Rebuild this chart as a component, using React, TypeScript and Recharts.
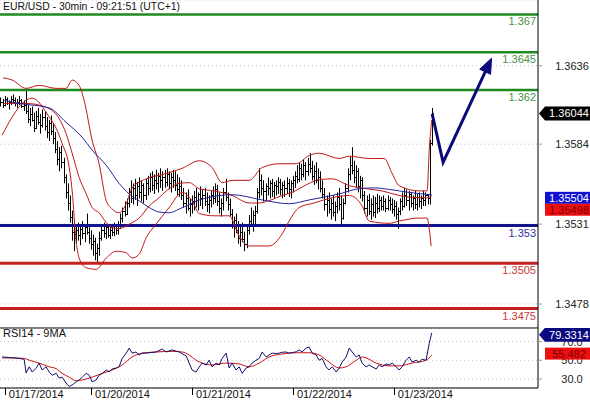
import React from "react";
import { ComposedChart, Bar, Line, XAxis, YAxis, CartesianGrid, ReferenceLine } from "recharts";

const FONT = '"Liberation Sans", Arial, Helvetica, sans-serif';

const titleText = "EUR/USD - 30min - 09:21:51 (UTC+1)";
const rsiTitle = "RSI14 - 9MA";

const highs = [1.3615,1.3614,1.3616,1.3615,1.3613,1.3616,1.3617,1.3615,1.3614,1.3616,
1.3614,1.3613,1.3621,1.3610,1.3608,1.3609,1.3605,1.3606,1.3608,1.3604,
1.3607,1.3606,1.3602,1.3600,1.3603,1.3598,1.3592,1.3586,1.3582,1.3583,
1.3575,1.3564,1.3558,1.3550,1.3540,1.3532,1.3530,1.3532,1.3530,1.3533,
1.3531,1.3538,1.3530,1.3527,1.3524,1.3522,1.3518,1.3526,1.3530,1.3532,
1.3531,1.3530,1.3529,1.3531,1.3532,1.3531,1.3533,1.3538,1.3542,1.3546,
1.3548,1.3555,1.3560,1.3558,1.3561,1.3559,1.3562,1.3560,1.3558,1.3561,
1.3563,1.3565,1.3566,1.3564,1.3567,1.3565,1.3568,1.3566,1.3567,1.3568,
1.3566,1.3565,1.3567,1.3566,1.3564,1.3562,1.3560,1.3555,1.3552,1.3554,
1.3548,1.3550,1.3553,1.3555,1.3552,1.3556,1.3554,1.3555,1.3552,1.3550,
1.3553,1.3556,1.3558,1.3557,1.3552,1.3548,1.3555,1.3561,1.3552,1.3548,
1.3541,1.3536,1.3538,1.3533,1.3530,1.3532,1.3526,1.3530,1.3537,1.3542,
1.3540,1.3543,1.3555,1.3568,1.3564,1.3560,1.3558,1.3562,1.3560,1.3561,
1.3559,1.3560,1.3562,1.3561,1.3559,1.3560,1.3562,1.3561,1.3560,1.3563,
1.3566,1.3570,1.3572,1.3571,1.3574,1.3572,1.3575,1.3578,1.3573,1.3570,
1.3572,1.3568,1.3566,1.3560,1.3555,1.3550,1.3552,1.3548,1.3550,1.3546,
1.3552,1.3555,1.3550,1.3548,1.3558,1.3568,1.3576,1.3582,1.3573,1.3570,
1.3568,1.3563,1.3562,1.3553,1.3550,1.3551,1.3548,1.3550,1.3549,1.3551,
1.3550,1.3549,1.3550,1.3548,1.3550,1.3549,1.3548,1.3547,1.3546,1.3542,
1.3548,1.3552,1.3555,1.3554,1.3553,1.3552,1.3550,1.3553,1.3551,1.3552,
1.3550,1.3553,1.3552,1.3551,1.3587,1.3608];

const lows = [1.3609,1.3608,1.3609,1.3610,1.3607,1.3610,1.3611,1.3609,1.3608,1.3610,
1.3608,1.3606,1.3604,1.3598,1.3596,1.3599,1.3592,1.3594,1.3597,1.3591,
1.3595,1.3593,1.3588,1.3586,1.3590,1.3584,1.3578,1.3570,1.3566,1.3568,
1.3558,1.3548,1.3540,1.3532,1.3520,1.3513,1.3518,1.3520,1.3517,1.3521,
1.3519,1.3524,1.3518,1.3514,1.3510,1.3507,1.3505,1.3510,1.3520,1.3522,
1.3521,1.3522,1.3521,1.3523,1.3523,1.3524,1.3524,1.3528,1.3532,1.3536,
1.3537,1.3542,1.3545,1.3544,1.3547,1.3543,1.3548,1.3546,1.3545,1.3547,
1.3550,1.3552,1.3553,1.3551,1.3554,1.3552,1.3555,1.3553,1.3555,1.3556,
1.3554,1.3552,1.3555,1.3553,1.3550,1.3549,1.3547,1.3542,1.3538,1.3540,
1.3536,1.3538,1.3540,1.3542,1.3540,1.3543,1.3541,1.3543,1.3539,1.3538,
1.3542,1.3544,1.3545,1.3543,1.3538,1.3536,1.3540,1.3546,1.3540,1.3536,
1.3528,1.3522,1.3525,1.3518,1.3516,1.3519,1.3513,1.3515,1.3524,1.3529,
1.3526,1.3531,1.3538,1.3548,1.3550,1.3546,1.3547,1.3550,1.3548,1.3549,
1.3548,1.3550,1.3551,1.3550,1.3548,1.3549,1.3551,1.3549,1.3548,1.3552,
1.3555,1.3558,1.3559,1.3560,1.3562,1.3560,1.3563,1.3565,1.3560,1.3557,
1.3558,1.3554,1.3552,1.3548,1.3540,1.3536,1.3538,1.3534,1.3536,1.3533,
1.3538,1.3540,1.3531,1.3534,1.3544,1.3552,1.3560,1.3564,1.3558,1.3555,
1.3552,1.3548,1.3546,1.3538,1.3536,1.3537,1.3534,1.3536,1.3535,1.3538,
1.3539,1.3540,1.3540,1.3539,1.3540,1.3540,1.3538,1.3536,1.3534,1.3528,
1.3537,1.3540,1.3542,1.3543,1.3540,1.3542,1.3540,1.3541,1.3540,1.3542,
1.3541,1.3543,1.3543,1.3544,1.3544,1.3583];

const closes = [1.3612,1.3610,1.3614,1.3611,1.3612,1.3614,1.3613,1.3611,1.3612,1.3613,
1.3609,1.3610,1.3606,1.3601,1.3604,1.3600,1.3595,1.3603,1.3599,1.3597,
1.3602,1.3596,1.3592,1.3598,1.3593,1.3588,1.3581,1.3574,1.3579,1.3572,
1.3562,1.3552,1.3545,1.3536,1.3526,1.3522,1.3527,1.3524,1.3528,1.3525,
1.3529,1.3526,1.3522,1.3518,1.3520,1.3512,1.3515,1.3522,1.3527,1.3525,
1.3529,1.3524,1.3527,1.3526,1.3530,1.3527,1.3531,1.3535,1.3540,1.3538,
1.3545,1.3552,1.3548,1.3555,1.3550,1.3556,1.3552,1.3557,1.3550,1.3558,
1.3555,1.3562,1.3557,1.3560,1.3558,1.3563,1.3560,1.3562,1.3559,1.3564,
1.3558,1.3562,1.3560,1.3557,1.3554,1.3556,1.3550,1.3545,1.3548,1.3542,
1.3544,1.3546,1.3549,1.3547,1.3551,1.3548,1.3550,1.3546,1.3544,1.3547,
1.3550,1.3548,1.3554,1.3546,1.3542,1.3545,1.3552,1.3549,1.3544,1.3538,
1.3531,1.3534,1.3527,1.3522,1.3526,1.3521,1.3518,1.3527,1.3533,1.3531,
1.3537,1.3540,1.3552,1.3560,1.3555,1.3553,1.3556,1.3555,1.3558,1.3553,
1.3557,1.3556,1.3559,1.3554,1.3557,1.3555,1.3558,1.3554,1.3558,1.3560,
1.3563,1.3561,1.3568,1.3564,1.3570,1.3566,1.3571,1.3568,1.3563,1.3566,
1.3560,1.3562,1.3555,1.3551,1.3544,1.3547,1.3541,1.3545,1.3539,1.3543,
1.3549,1.3544,1.3535,1.3545,1.3555,1.3564,1.3570,1.3567,1.3562,1.3566,
1.3556,1.3560,1.3550,1.3542,1.3547,1.3540,1.3544,1.3539,1.3545,1.3542,
1.3547,1.3543,1.3546,1.3542,1.3547,1.3544,1.3541,1.3543,1.3538,1.3540,
1.3546,1.3543,1.3550,1.3547,1.3551,1.3545,1.3548,1.3544,1.3549,1.3546,
1.3548,1.3547,1.3550,1.3548,1.3585,1.36044];

const priceTicks = [1.3478, 1.3531, 1.3584, 1.3636];
const priceDomain = [1.34621, 1.36796];
const xDomain = [-0.2, 255.5];

const dateTickIdx = [2, 43, 91, 139, 187];
const dateLabels = ["01/17/2014", "01/20/2014", "01/21/2014", "01/22/2014", "01/23/2014"];

const greenLevels = [1.367, 1.3645, 1.362];
const greenLabels = ["1.367", "1.3645", "1.362"];
const blueLevels = [1.353];
const blueLabels = ["1.353"];
const redLevels = [1.3505, 1.3475];
const redLabels = ["1.3505", "1.3475"];

const maIdx = [1.8, 8.9, 23.2, 31.2, 38.9, 43.6, 50.3, 56.4, 61.2, 65.9, 70.7, 75.4, 80.2, 85, 89.7, 94.5, 110.1, 124.4, 137.2, 146.7, 161, 170.5, 177.6, 184.8, 194.3, 205];
const maVals = [1.3613, 1.3611, 1.3608, 1.35985, 1.35885, 1.358, 1.357, 1.3558, 1.3551, 1.35465, 1.3542, 1.3539, 1.35385, 1.3541, 1.3544, 1.3547, 1.35505, 1.3547, 1.35445, 1.3547, 1.3551, 1.35545, 1.3555, 1.3554, 1.3552, 1.35504];

const bbUpIdx = [1.3, 5.6, 12.2, 18.4, 26.5, 31.2, 34.1, 37.4, 39.8, 43.6, 46.9, 50.3, 53.1, 56.4, 59.8, 62.6, 69.3, 78.8, 86.4, 94.5, 100.6, 105.4, 110.1, 118.2, 124.4, 132.5, 140.6, 146.7, 151.5, 161, 165.8, 175.3, 182.4, 186.2, 189.5, 199, 202.8, 203.8, 205];
const bbUpVals = [1.3628, 1.36265, 1.3621, 1.3623, 1.3621, 1.3621, 1.36265, 1.3623, 1.3613, 1.35865, 1.3571, 1.35465, 1.3541, 1.35385, 1.35445, 1.3555, 1.3561, 1.35645, 1.3568, 1.3573, 1.35685, 1.35585, 1.356, 1.356, 1.35685, 1.3571, 1.3571, 1.35765, 1.3578, 1.35745, 1.3576, 1.35745, 1.35745, 1.35645, 1.35565, 1.3553, 1.3553, 1.358, 1.36];

const bbMidIdx = [1.8, 12.2, 20.8, 27.9, 31.2, 34.1, 37.4, 40.8, 43.6, 46.9, 50.3, 53.1, 56.4, 61.2, 65.9, 70.7, 75.4, 78.8, 85, 89.7, 94.5, 101.6, 110.1, 118.2, 123, 127.7, 133.9, 138.7, 142, 146.7, 151.5, 157.7, 165.8, 173.8, 181.4, 189.5, 199, 202.8, 205];
const bbMidVals = [1.3611, 1.3611, 1.3609, 1.3601, 1.3591, 1.3578, 1.3562, 1.3551, 1.3542, 1.35385, 1.3532, 1.35285, 1.3528, 1.3531, 1.3535, 1.3543, 1.35485, 1.3553, 1.3558, 1.35585, 1.35545, 1.3553, 1.355, 1.3545, 1.3545, 1.35465, 1.355, 1.3552, 1.35545, 1.3558, 1.35605, 1.3561, 1.35565, 1.35545, 1.3553, 1.355, 1.35485, 1.35485, 1.35498];

const bbLowIdx = [0.8, 5.6, 10.3, 15.1, 23.2, 26.5, 29.3, 32.7, 34.1, 36, 37.4, 40.8, 45.5, 50.3, 55, 59.8, 62.6, 65.9, 69.3, 74, 80.2, 86.4, 91.1, 94.5, 101.6, 108.7, 113.5, 118.2, 127.7, 133.9, 137.2, 142, 149.1, 157.7, 165.8, 171.9, 175.3, 184.8, 189.5, 199, 202.8, 203.8, 204.7];
const bbLowVals = [1.359, 1.3602, 1.3611, 1.36145, 1.3602, 1.35945, 1.35845, 1.35685, 1.3553, 1.35195, 1.35085, 1.3502, 1.3501, 1.35085, 1.3513, 1.3512, 1.35085, 1.3511, 1.3522, 1.3531, 1.3542, 1.3552, 1.35465, 1.3538, 1.35365, 1.35365, 1.3523, 1.35165, 1.35165, 1.35245, 1.3533, 1.3542, 1.3545, 1.35485, 1.355, 1.3543, 1.3533, 1.35315, 1.3533, 1.3535, 1.3535, 1.3528, 1.35165];

const arrowIdx = [205.2, 210.4, 230.4];
const arrowVals = [1.3604, 1.3572, 1.3632];

const lastPrice = 1.36044;
const lastPriceText = "1.36044";
const maLast = 1.35504;
const maLastText = "1.35504";
const bbMidLast = 1.35498;
const bbMidLastText = "1.35498";

const rsiIdx = [0.8, 4.2, 8.9, 11.3, 12.2, 13.7, 15.1, 17, 18.4, 19.8, 21.7, 23.2, 24.6, 26.5, 27.9, 29.3, 31.2, 32.7, 34.1, 36, 37.4, 38.9, 40.8, 42.2, 43.6, 45.5, 46.9, 48.4, 50.3, 51.7, 53.1, 55, 56.4, 57.9, 59.8, 61.2, 62.6, 64.5, 65.9, 67.4, 69.3, 70.7, 74, 76.9, 78.8, 81.6, 85, 88.3, 89.7, 91.1, 93, 94.5, 95.9, 97.8, 99.2, 100.6, 102.5, 104, 105.4, 107.3, 108.7, 110.1, 112, 113.5, 114.9, 116.8, 118.2, 119.6, 121.5, 123, 124.4, 126.3, 127.7, 129.2, 131.1, 132.5, 133.9, 135.8, 137.2, 140.6, 142, 143.4, 145.3, 146.7, 148.2, 150.1, 151.5, 152.9, 154.8, 156.2, 157.7, 159.6, 161, 162.4, 164.3, 165.8, 167.2, 169.1, 170.5, 171.9, 173.8, 175.3, 176.7, 178.6, 180, 181.4, 183.3, 184.8, 186.2, 188.1, 189.5, 190.9, 192.8, 194.3, 195.7, 197.6, 199, 200.4, 202.3, 203.8, 205];
const rsiVals = [53.5, 53, 52, 51, 36.4, 43, 37.5, 41.5, 47, 39.6, 43, 37.5, 34, 36, 31, 32, 25.7, 22, 23.6, 27, 29, 32, 36, 34, 27, 29, 34, 36, 39.6, 37.5, 40.7, 41.7, 43, 52, 57.6, 63, 57.6, 58.8, 55.6, 57.6, 57.6, 58, 58.8, 62, 58.8, 61, 58.8, 54.5, 47, 39.6, 37.5, 43, 47, 45, 50, 43, 47, 45, 52, 57.6, 41.7, 47, 39.6, 43, 36, 41.7, 43, 47, 50, 52, 58.8, 53.5, 55.6, 57.6, 57.2, 57.6, 58.5, 58.8, 57.6, 59, 61, 59, 63, 64, 57.6, 55.6, 50, 52, 43, 39.6, 43, 37.5, 41.7, 48, 53.5, 63, 58.8, 53.5, 55.6, 47, 43, 45, 43, 40.7, 45, 43, 46, 45, 47, 43, 39.6, 43, 50, 53.5, 48, 50, 48, 51, 50, 68, 79.3314];

const rsiMaIdx = [0.8, 11.3, 13.7, 18.4, 23.2, 26.5, 29.3, 32.7, 36, 38.9, 43.6, 48.4, 53.1, 57.9, 62.6, 67.4, 74, 81.6, 86.4, 89.7, 93, 95.9, 100.6, 107.3, 113.5, 118.2, 123, 127.7, 133.9, 140.6, 146.7, 151.5, 156.2, 161, 164.3, 169.1, 171.9, 173.8, 178.6, 184.8, 189.5, 195.7, 202.3, 205];
const rsiMaVals = [52.5, 52, 50, 47, 43, 41, 36, 32, 28, 29, 32, 36, 39.6, 45, 53.5, 57.6, 58.8, 59.5, 58.8, 55.6, 50, 47, 45, 47, 46, 43, 47, 53.5, 56.7, 58, 58, 55.6, 48, 41.7, 43, 50, 53.5, 52.5, 47, 44, 44, 47, 50, 55.482];

const rsiTicks = [30, 50, 70];
const rsiDomain = [20.4, 84.4];
const rsiLast = 79.3314;
const rsiLastText = "79.3314";
const rsiMaLast = 55.482;
const rsiMaLastText = "55.482";

const zip = (idx: number[], vals: number[]) => idx.map((i, k) => ({ i, v: vals[k] }));

const bars = highs.map((h, i) => ({
  i,
  high: h,
  low: lows[i],
  close: closes[i],
  open: i === 0 ? closes[0] : closes[i - 1],
  range: [lows[i], h],
}));

const HLOC = (props: any) => {
  const { x, y, width, height, payload } = props;
  if (!payload || x == null || y == null || height == null) return <g />;
  const top = Math.min(y, y + height);
  const h = Math.abs(height);
  const cx = Math.round(x + width / 2) + 0.5;
  const span = payload.high - payload.low || 1e-9;
  const yo = Math.round(top + ((payload.high - payload.open) / span) * h) + 0.5;
  const yc = Math.round(top + ((payload.high - payload.close) / span) * h) + 0.5;
  return (
    <g stroke="#000" strokeWidth={1}>
      <line x1={cx} x2={cx} y1={top} y2={top + Math.max(h, 1)} />
      <line x1={cx - 1.5} x2={cx} y1={yo} y2={yo} />
      <line x1={cx} x2={cx + 1.5} y1={yc} y2={yc} />
    </g>
  );
};

const levelLabel = (text: string, color: string) => (p: any) => {
  const vb = p.viewBox || {};
  return (
    <text x={vb.x + vb.width - 2} y={vb.y + 11} textAnchor="end" fill={color} fontSize={11} fontFamily={FONT}>
      {text}
    </text>
  );
};

const axisTextLabel = (text: string) => (p: any) => {
  const vb = p.viewBox || {};
  return (
    <text x={vb.x + vb.width + 34} y={vb.y + 4} textAnchor="middle" fill="#222" fontSize={11} fontFamily={FONT}>
      {text}
    </text>
  );
};

const boxLabel = (text: string, fill: string, color: string, dy: number, arrow: boolean) => (p: any) => {
  const vb = p.viewBox || {};
  const x0 = vb.x + vb.width;
  const cy = vb.y + dy;
  return (
    <g>
      {arrow ? (
        <polygon points={`${x0 + 1},${cy} ${x0 + 7},${cy - 7} ${x0 + 52},${cy - 7} ${x0 + 52},${cy + 7} ${x0 + 7},${cy + 7}`} fill={fill} />
      ) : (
        <rect x={x0 + 7} y={cy - 6} width={45} height={12} fill={fill} />
      )}
      <text x={x0 + 31} y={cy + 4} textAnchor="middle" fill={color} fontSize={11} fontFamily={FONT}>
        {text}
      </text>
    </g>
  );
};

const PriceTick = (props: any) => {
  const { x, y, payload } = props;
  return (
    <text x={x + 30} y={y + 4} textAnchor="middle" fill="#222" fontSize={11} fontFamily={FONT}>
      {Number(payload.value).toFixed(4)}
    </text>
  );
};

const EmptyTick = () => <g />;

const DateTick = (props: any) => {
  const { x, y, payload } = props;
  const k = dateTickIdx.indexOf(payload.value);
  return (
    <g>
      <line x1={Math.round(x) + 0.5} x2={Math.round(x) + 0.5} y1={y} y2={y + 7} stroke="#000" />
      <text x={x + 4} y={y + 10} fill="#111" fontSize={11} fontFamily={FONT}>
        {dateLabels[k]}
      </text>
    </g>
  );
};

const ArrowHead = (props: any) => {
  const { cx, cy, index } = props;
  if (index !== arrowIdx.length - 1 || cx == null) return <g key={`ah-${index}`} />;
  const ux = 0.4225, uy = -0.9066;
  const nx = 0.9066, ny = 0.4225;
  const L = 15, W = 6;
  const pts = `${cx + ux * L},${cy + uy * L} ${cx + nx * W},${cy + ny * W} ${cx - nx * W},${cy - ny * W}`;
  return <polygon key={`ah-${index}`} points={pts} fill="#0a0a7a" stroke="#0a0a7a" />;
};

const lineCommon = { dot: false, activeDot: false, isAnimationActive: false } as any;

export default function App() {
  return (
    <div style={{ position: "absolute", left: 0, top: 0, width: 590, height: 400, background: "#fff", overflow: "hidden" }}>
      <div style={{ position: "absolute", left: 0, top: 0 }}>
        <ComposedChart width={590} height={329} data={bars} margin={{ top: 0, right: 0, bottom: 0, left: 0 }}>
          <CartesianGrid vertical={false} stroke="#c4c4c4" strokeDasharray="1 3" />
          <XAxis dataKey="i" type="number" domain={xDomain} allowDataOverflow height={1} tick={false} tickLine={false} axisLine={{ stroke: "#000" }} />
          <YAxis orientation="right" type="number" domain={priceDomain} allowDataOverflow ticks={priceTicks} width={52} axisLine={{ stroke: "#000" }} tickLine={{ stroke: "#999" }} tickSize={4} tickMargin={0} tick={<PriceTick />} interval={0} />
          {greenLevels.map((v, k) => (
            <ReferenceLine key={`g${k}`} y={v} stroke="#1f8a1f" strokeWidth={2.5} label={levelLabel(greenLabels[k], "#4a8f4a")} />
          ))}
          {blueLevels.map((v, k) => (
            <ReferenceLine key={`b${k}`} y={v} stroke="#12128a" strokeWidth={3} label={levelLabel(blueLabels[k], "#33339a")} />
          ))}
          {redLevels.map((v, k) => (
            <ReferenceLine key={`r${k}`} y={v} stroke="#c42020" strokeWidth={3} label={levelLabel(redLabels[k], "#c83a3a")} />
          ))}
          <Line data={zip(bbUpIdx, bbUpVals)} dataKey="v" type="monotone" stroke="#c01818" strokeWidth={1} {...lineCommon} />
          <Line data={zip(bbMidIdx, bbMidVals)} dataKey="v" type="monotone" stroke="#c01818" strokeWidth={1} {...lineCommon} />
          <Line data={zip(bbLowIdx, bbLowVals)} dataKey="v" type="monotone" stroke="#c01818" strokeWidth={1} {...lineCommon} />
          <Line data={zip(maIdx, maVals)} dataKey="v" type="monotone" stroke="#2424a0" strokeWidth={1} {...lineCommon} />
          <Bar dataKey="range" shape={HLOC} barSize={2} isAnimationActive={false} />
          <Line data={zip(arrowIdx, arrowVals)} dataKey="v" type="linear" stroke="#0a0a7a" strokeWidth={3} dot={ArrowHead} activeDot={false} isAnimationActive={false} />
          <ReferenceLine y={lastPrice} stroke="none" label={boxLabel(lastPriceText, "#000", "#fff", 0, true)} />
          <ReferenceLine y={maLast} stroke="none" label={boxLabel(maLastText, "#1010d0", "#fff", 3, false)} />
          <ReferenceLine y={bbMidLast} stroke="none" label={boxLabel(bbMidLastText, "#ee1010", "#7a0000", 14, false)} />
        </ComposedChart>
      </div>
      <div style={{ position: "absolute", left: 0, top: 328 }}>
        <ComposedChart width={590} height={72} margin={{ top: 0, right: 0, bottom: 0, left: 0 }}>
          <CartesianGrid vertical={false} stroke="#c4c4c4" strokeDasharray="1 3" />
          <XAxis dataKey="i" type="number" domain={xDomain} allowDataOverflow ticks={dateTickIdx} interval={0} height={12} tickSize={0} tickMargin={0} tickLine={false} axisLine={{ stroke: "#000" }} tick={<DateTick />} />
          <YAxis orientation="right" type="number" domain={rsiDomain} allowDataOverflow ticks={rsiTicks} width={52} axisLine={{ stroke: "#000" }} tickLine={{ stroke: "#999" }} tickSize={4} tickMargin={0} tick={<EmptyTick />} interval={0} />
          <Line data={zip(rsiMaIdx, rsiMaVals)} dataKey="v" type="monotone" stroke="#cc1010" strokeWidth={1} {...lineCommon} />
          <Line data={zip(rsiIdx, rsiVals)} dataKey="v" type="linear" stroke="#10106e" strokeWidth={1} {...lineCommon} />
          {rsiTicks.map((v) => (
            <ReferenceLine key={`t${v}`} y={v} stroke="none" label={axisTextLabel(v.toFixed(1))} />
          ))}
          <ReferenceLine y={rsiLast} stroke="none" label={boxLabel(rsiLastText, "#0a0a80", "#fff", 2, true)} />
          <ReferenceLine y={rsiMaLast} stroke="none" label={boxLabel(rsiMaLastText, "#ee1010", "#7a0000", -1.5, false)} />
        </ComposedChart>
      </div>
      <div style={{ position: "absolute", left: 3, top: 0, fontFamily: FONT, fontSize: 10.4, lineHeight: "13px", color: "#111" }}>{titleText}</div>
      <div style={{ position: "absolute", left: 3, top: 327, fontFamily: FONT, fontSize: 11, lineHeight: "13px", color: "#111" }}>{rsiTitle}</div>
    </div>
  );
}
